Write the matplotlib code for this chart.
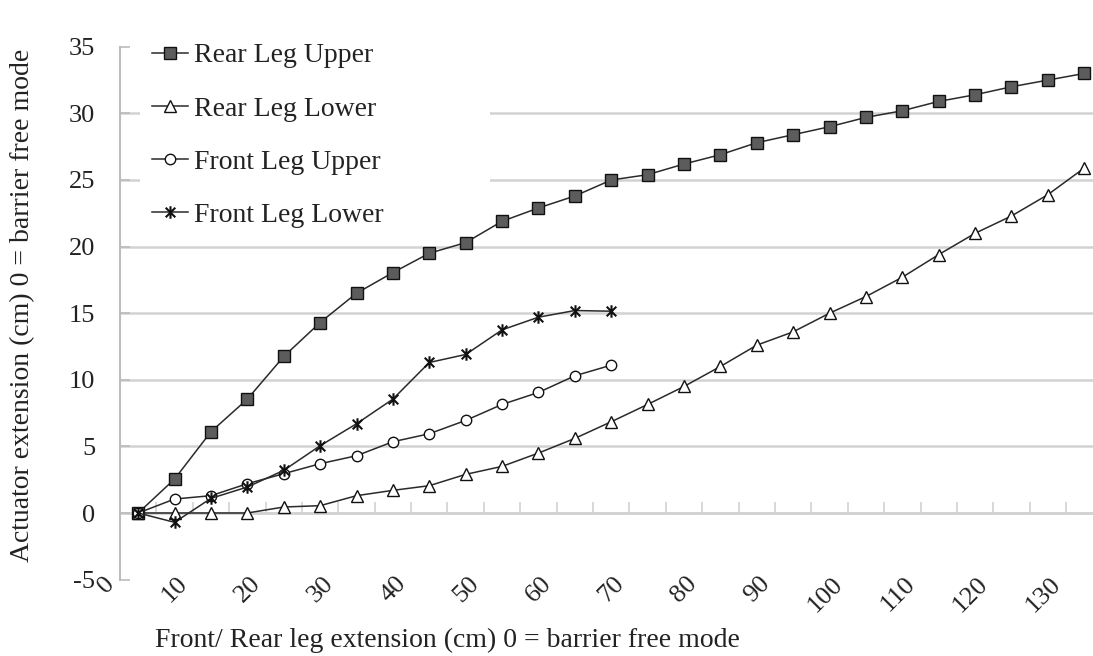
import numpy as np
import matplotlib
matplotlib.use('Agg')
import matplotlib.pyplot as plt
from matplotlib.path import Path
from matplotlib.patches import Rectangle
from matplotlib.transforms import ScaledTranslation

plt.rcParams['font.family'] = ['Liberation Serif', 'DejaVu Serif']

# leg extension (cm), one category every 5 cm
extension = list(range(0, 135, 5))

# actuator extension (cm)
rear_upper = [0, 2.55, 6.1, 8.55, 11.75, 14.3, 16.5, 18.05, 19.5, 20.3,
              21.9, 22.9, 23.8, 25.0, 25.4, 26.2, 26.9, 27.8, 28.4, 29.0,
              29.7, 30.2, 30.9, 31.4, 32.0, 32.5, 33.0]
rear_lower = [0, 0, 0, 0, 0.45, 0.55, 1.3, 1.7, 2.05, 2.9,
              3.5, 4.5, 5.6, 6.85, 8.15, 9.5, 11.0, 12.6, 13.6, 15.0,
              16.25, 17.7, 19.4, 21.0, 22.3, 23.9, 25.9]
front_upper = [0, 1.05, 1.3, 2.2, 2.95, 3.7, 4.3, 5.35, 5.95, 6.95,
               8.15, 9.05, 10.3, 11.1]
front_lower = [0, -0.7, 1.1, 1.95, 3.2, 5.05, 6.7, 8.55, 11.3, 11.9,
               13.75, 14.7, 15.2, 15.15]

x_labels = [str(v) for v in range(0, 135, 10)]
y_ticks = list(range(-5, 40, 5))

W, H = 1093, 656
grid_c = '#d2d2d2'
line_c = '#2a2a2a'
text_c = '#222222'

fig = plt.figure(figsize=(W / 100, H / 100), dpi=100)
ax = fig.add_axes([120 / W, 1 - 579.6 / H, 973 / W, 532.8 / H])
ax.set_xlim(-2.5, 131.2)
ax.set_ylim(y_ticks[0], y_ticks[-1])

# gridlines (none at the top value in the original)
for v in y_ticks[1:-1]:
    ax.axhline(v, color=grid_c, lw=1.8, zorder=0.5)

# excel-like star marker: an x with a vertical bar
star = Path([(-1, -1), (1, 1), (-1, 1), (1, -1), (0, -1.3), (0, 1.3)],
            [Path.MOVETO, Path.LINETO] * 3)

ax.plot(extension, rear_upper, color=line_c, lw=1.1, marker='s', ms=8,
        mfc='#5c5c5c', mec='#111111', mew=1.0, label='Rear Leg Upper', zorder=3)
ax.plot(extension, rear_lower, color=line_c, lw=1.1, marker='^', ms=8,
        mfc='white', mec='#111111', mew=1.0, label='Rear Leg Lower', zorder=3)
ax.plot(extension[:len(front_upper)], front_upper, color=line_c, lw=1.1,
        marker='o', ms=7.5, mfc='white', mec='#111111', mew=1.0,
        label='Front Leg Upper', zorder=3)
ax.plot(extension[:len(front_lower)], front_lower, color=line_c, lw=1.1,
        marker=star, ms=9, mec='#111111', mew=1.5,
        label='Front Leg Lower', zorder=3)

# spines / y axis
for s in ['top', 'right', 'bottom']:
    ax.spines[s].set_visible(False)
ax.spines['left'].set_color('#bcbcbc')
ax.spines['left'].set_linewidth(1.5)
ax.set_yticks(y_ticks)
ax.set_yticklabels([str(v) for v in y_ticks])
ax.tick_params(axis='y', direction='in', length=7.5, width=1.2,
               color='#bcbcbc', pad=18, labelsize=19, labelcolor=text_c)

# category labels, low position, rotated
ax.set_xticks(extension[::2])
ax.set_xticklabels(x_labels, rotation=45, ha='right', va='top')
ax.tick_params(axis='x', length=0, pad=0, labelsize=19, labelcolor=text_c)
shift = ScaledTranslation(-0.19, 0.07, fig.dpi_scale_trans)
for lab in ax.get_xticklabels():
    lab.set_transform(lab.get_transform() + shift)

# horizontal axis line crossing at 0 with marks between categories
sec = ax.secondary_xaxis(0, transform=ax.transData)
sec.set_xticks(np.arange(2.5, 131, 5))
sec.tick_params(direction='in', length=8, width=1.2, color=grid_c,
                labelbottom=False)
sec.spines['bottom'].set_color(grid_c)
sec.spines['bottom'].set_linewidth(1.8)

# white block behind the legend
ax.add_patch(Rectangle((140 / W, 1 - 240 / H), 350 / W, 205 / H,
                       transform=fig.transFigure, facecolor='white',
                       edgecolor='none', zorder=1, clip_on=False))

ax.legend(loc='upper left', bbox_to_anchor=(152 / W, 1 - 43 / H),
          bbox_transform=fig.transFigure, frameon=False, fontsize=20,
          handlelength=1.3, handletextpad=0.22, labelspacing=1.0,
          borderpad=0, borderaxespad=0, labelcolor=text_c)

fig.text(155 / W, 1 - 640 / H, 'Front/ Rear leg extension (cm) 0 = barrier free mode',
         ha='left', va='center', fontsize=20, color=text_c)
fig.text(23 / W, 1 - 305 / H, 'Actuator extension (cm) 0 = barrier free mode',
         rotation=90, ha='center', va='center', fontsize=20, color=text_c)

fig.savefig('out.png', dpi=100)
